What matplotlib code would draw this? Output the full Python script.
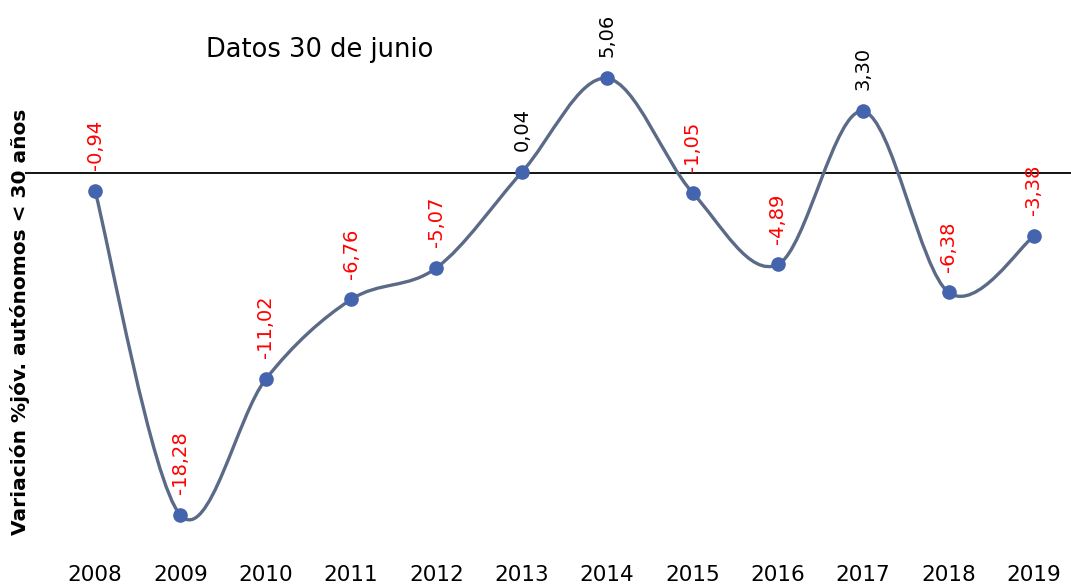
import numpy as np
from matplotlib import pyplot as plt
from matplotlib.path import Path
from matplotlib.patches import PathPatch

years = [2008, 2009, 2010, 2011, 2012, 2013, 2014, 2015, 2016, 2017, 2018, 2019]
values = [-0.94, -18.28, -11.02, -6.76, -5.07, 0.04, 5.06, -1.05, -4.89, 3.30, -6.38, -3.38]

line_color = "#5a6a87"
marker_color = "#4464ad"

fig = plt.figure(figsize=(10.71, 5.85), dpi=100)
ax = fig.add_axes([25 / 1071, 35 / 585, 1046 / 1071, 550 / 585])

# smoothed line, bezier segments like Excel's smooth option
x = np.array(years, dtype=float)
y = np.array(values)
xp = np.concatenate([[x[0]], x, [x[-1]]])
yp = np.concatenate([[y[0]], y, [y[-1]]])
verts = [(x[0], y[0])]
codes = [Path.MOVETO]
for i in range(len(x) - 1):
    c1 = (x[i] + (xp[i + 2] - xp[i]) / 6, y[i] + (yp[i + 2] - yp[i]) / 6)
    c2 = (x[i + 1] - (xp[i + 3] - xp[i + 1]) / 6, y[i + 1] - (yp[i + 3] - yp[i + 1]) / 6)
    verts += [c1, c2, (x[i + 1], y[i + 1])]
    codes += [Path.CURVE4] * 3
ax.add_patch(PathPatch(Path(verts, codes), facecolor="none", edgecolor=line_color,
                       lw=2.4, capstyle="round", zorder=3))

ax.axhline(0, color="black", lw=1.3, zorder=2)
ax.plot(years, values, "o", color=marker_color, markersize=9.5, zorder=4)

for yr, v in zip(years, values):
    txt = f"{v:.2f}".replace(".", ",")
    ax.annotate(txt, (yr, v), xytext=(0, 15), textcoords="offset points",
                rotation=90, ha="center", va="bottom", fontsize=14,
                color="red" if v < 0 else "black", zorder=5)

ax.set_xlim(2008 - 70 / 85.36, 2008 + 976 / 85.36)
ax.set_ylim(-377 / 18.71, 173 / 18.71)
ax.set_xticks(years)
ax.set_xticklabels([str(yr) for yr in years], fontsize=15.5)
ax.tick_params(axis="x", length=0, pad=11)
ax.set_yticks([])
for s in ax.spines.values():
    s.set_visible(False)

fig.text(320 / 1071, 1 - 50 / 585, "Datos 30 de junio", fontsize=18.5, ha="center", va="center")
fig.text(20 / 1071, 1 - 322 / 585, "Variación %jóv. autónomos < 30 años", fontsize=14.5,
         fontweight="bold", rotation=90, ha="center", va="center")

fig.savefig("out.png", dpi=100)
